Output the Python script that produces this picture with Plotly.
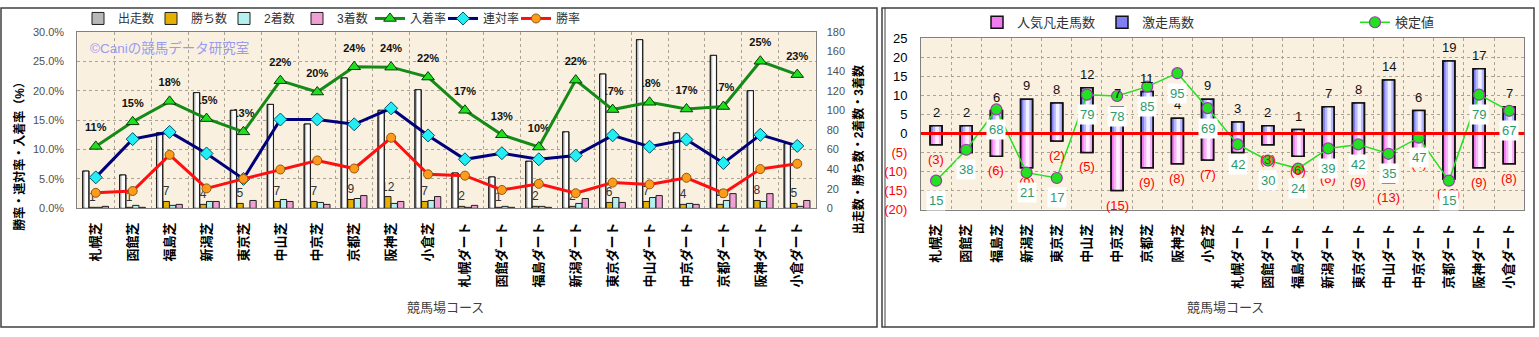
import plotly.graph_objects as go

W, H = 1539, 337

# ---- data -------------------------------------------------------------
courses = ["札幌芝", "函館芝", "福島芝", "新潟芝", "東京芝", "中山芝", "中京芝", "京都芝", "阪神芝", "小倉芝",
           "札幌ダート", "函館ダート", "福島ダート", "新潟ダート", "東京ダート", "中山ダート", "中京ダート",
           "京都ダート", "阪神ダート", "小倉ダート"]

runs = [38, 34, 77, 118, 100, 106, 86, 133, 100, 121, 36, 32, 48, 78, 137, 172, 77, 156, 120, 66]
wins = [1, 1, 7, 4, 5, 7, 7, 9, 12, 7, 2, 1, 2, 2, 6, 7, 4, 4, 8, 5]
seconds = [1, 3, 3, 7, 0, 9, 6, 10, 5, 8, 1, 2, 2, 5, 11, 11, 5, 8, 7, 2]
thirds = [2, 1, 4, 7, 8, 7, 4, 13, 7, 12, 3, 1, 1, 10, 6, 13, 4, 15, 15, 8]

surge = [2, 2, 6, 9, 8, 12, 7, 11, 4, 9, 3, 2, 1, 7, 8, 14, 6, 19, 17, 7]      # 激走馬数
flop = [3, 5, 6, 9, 2, 5, 15, 9, 8, 7, 5, 3, 6, 8, 9, 13, 4, 12, 9, 8]         # 人気凡走馬数
score = [15, 38, 68, 21, 17, 79, 78, 85, 95, 69, 42, 30, 24, 39, 42, 35, 47, 15, 79, 67]  # 検定値

left_ticks = [-20, -15, -10, -5, 0, 5, 10, 15, 20, 25]

# rates derived from the counts
win_rate = [w / r for w, r in zip(wins, runs)]
quinella_rate = [(w + s) / r for w, s, r in zip(wins, seconds, runs)]
place_rate = [(w + s + t) / r for w, s, t, r in zip(wins, seconds, thirds, runs)]
place_text = [f"{int(p * 100 + 0.5)}%" for p in place_rate]


def px(x):
    return x / W


def py(y):
    return 1 - y / H


JP = "Liberation Sans, Noto Sans CJK JP"
GRID = "#ABA393"

fig = go.Figure()

# ---- left panel: counts (right axis) ---------------------------------
bw = 0.17
fig.add_bar(x=courses, y=wins, name="勝ち数", xaxis="x", yaxis="y2", width=bw, offset=-0.175,
            marker=dict(color="#E6B000", line=dict(color="#202020", width=1)),
            text=[str(v) for v in wins], textposition="outside", constraintext="none",
            cliponaxis=False, textfont=dict(size=12, color="#333333"), legendrank=2, hoverinfo="skip")
fig.add_bar(x=courses, y=seconds, name="2着数", xaxis="x", yaxis="y2", width=bw, offset=0.0,
            marker=dict(color="#B4F0F0", line=dict(color="#202020", width=1)), legendrank=3, hoverinfo="skip")
fig.add_bar(x=courses, y=thirds, name="3着数", xaxis="x", yaxis="y2", width=bw, offset=0.175,
            marker=dict(color="#F0A0D4", line=dict(color="#202020", width=1)), legendrank=4, hoverinfo="skip")
fig.add_bar(x=courses, y=runs, name="出走数", xaxis="x", yaxis="y2", width=bw, offset=-0.355,
            marker=dict(color="#B8B8B8", line=dict(color="#202020", width=1)), legendrank=1, hoverinfo="skip")
fig.add_bar(x=courses, y=runs, xaxis="x", yaxis="y2", width=bw * 0.55, offset=-0.355 + bw * 0.32,
            marker=dict(color="#FFFFFF", line=dict(width=0)), showlegend=False, hoverinfo="skip")
fig.add_bar(x=courses, y=runs, xaxis="x", yaxis="y2", width=bw, offset=-0.355,
            marker=dict(color="rgba(0,0,0,0)", line=dict(color="#202020", width=1)),
            showlegend=False, hoverinfo="skip")

# percentage labels for 入着率 (sit beneath the bars)
fig.add_scatter(x=courses, y=place_rate, xaxis="x", yaxis="y", mode="markers+text", text=place_text,
                textposition="top center", marker=dict(size=18, color="rgba(0,0,0,0)"),
                textfont=dict(size=11, color="#111111", weight="bold"), showlegend=False, hoverinfo="skip")

# rate lines (left axis)
fig.add_scatter(x=courses, y=place_rate, name="入着率", xaxis="x", yaxis="y3", mode="lines+markers",
                line=dict(color="#168A16", width=3),
                marker=dict(symbol="triangle-up", size=11, color="#1EE01E", line=dict(color="#0A3A0A", width=1)),
                legendrank=5, hoverinfo="skip")
fig.add_scatter(x=courses, y=quinella_rate, name="連対率", xaxis="x", yaxis="y3", mode="lines+markers",
                line=dict(color="#00007A", width=3),
                marker=dict(symbol="diamond", size=10, color="#22EEF4", line=dict(color="#00506A", width=1)),
                legendrank=6, hoverinfo="skip")
fig.add_scatter(x=courses, y=win_rate, name="勝率", xaxis="x", yaxis="y3", mode="lines+markers",
                line=dict(color="#FF1010", width=3),
                marker=dict(symbol="circle", size=9, color="#FF9A1A", line=dict(color="#8A5A10", width=1)),
                legendrank=7, hoverinfo="skip")

# ---- right panel ------------------------------------------------------
neg_flop = [-v for v in flop]
fig.add_bar(x=courses, y=neg_flop, name="人気凡走馬数", xaxis="x2", yaxis="y4", width=0.4, offset=-0.2,
            marker=dict(color="#F07CF0", line=dict(color="#111111", width=1.5)),
            legend="legend2", legendrank=1, hoverinfo="skip")
fig.add_bar(x=courses, y=neg_flop, xaxis="x2", yaxis="y4", width=0.27, offset=-0.11,
            marker=dict(color="#F8B4F8", line=dict(width=0)), showlegend=False, hoverinfo="skip")
fig.add_bar(x=courses, y=neg_flop, xaxis="x2", yaxis="y4", width=0.12, offset=-0.03,
            marker=dict(color="#FFF0FF", line=dict(width=0)), showlegend=False, hoverinfo="skip")
fig.add_bar(x=courses, y=neg_flop, xaxis="x2", yaxis="y4", width=0.4, offset=-0.2,
            marker=dict(color="rgba(0,0,0,0)", line=dict(color="#111111", width=1.5)),
            showlegend=False, hoverinfo="skip")

fig.add_bar(x=courses, y=surge, name="激走馬数", xaxis="x2", yaxis="y4", width=0.4, offset=-0.2,
            marker=dict(color="#8080F4", line=dict(color="#111111", width=1.5)),
            legend="legend2", legendrank=2, hoverinfo="skip")
fig.add_bar(x=courses, y=surge, xaxis="x2", yaxis="y4", width=0.27, offset=-0.11,
            marker=dict(color="#B8B8FF", line=dict(width=0)), showlegend=False, hoverinfo="skip")
fig.add_bar(x=courses, y=surge, xaxis="x2", yaxis="y4", width=0.12, offset=-0.03,
            marker=dict(color="#F0F0FF", line=dict(width=0)), showlegend=False, hoverinfo="skip")
fig.add_bar(x=courses, y=surge, xaxis="x2", yaxis="y4", width=0.4, offset=-0.2,
            marker=dict(color="rgba(0,0,0,0)", line=dict(color="#111111", width=1.5)),
            showlegend=False, hoverinfo="skip")

fig.add_scatter(x=courses, y=score, name="検定値", xaxis="x2", yaxis="y5", mode="lines+markers",
                line=dict(color="#22E022", width=1.5),
                marker=dict(size=11, color="#22E022", line=dict(color="#9A3AAA", width=1.2)),
                legend="legend3", hoverinfo="skip")

# ---- annotations ------------------------------------------------------
ann = [
    dict(text="©Caniの競馬データ研究室", xref="paper", yref="paper", x=px(88), y=py(43),
         xanchor="left", yanchor="middle", showarrow=False, font=dict(size=13.5, color="#9A9AF2")),
    dict(text="勝率・連対率・入着率（%）", xref="paper", yref="paper", x=px(19.5), y=py(153),
         xanchor="center", yanchor="middle", textangle=-90, showarrow=False,
         font=dict(size=12, color="#000000", weight="bold")),
    dict(text="出走数・勝ち数・2着数・3着数", xref="paper", yref="paper", x=px(858), y=py(150),
         xanchor="center", yanchor="middle", textangle=-90, showarrow=False,
         font=dict(size=12, color="#000000", weight="bold")),
    dict(text="競馬場コース", xref="paper", yref="paper", x=px(445), y=py(315),
         xanchor="center", yanchor="middle", showarrow=False, font=dict(size=13, color="#404040")),
    dict(text="競馬場コース", xref="paper", yref="paper", x=px(1225), y=py(315),
         xanchor="center", yanchor="middle", showarrow=False, font=dict(size=13, color="#404040")),
]
for c, v in zip(courses, surge):
    ann.append(dict(text=str(v), x=c, y=v, xref="x2", yref="y4", yanchor="bottom", yshift=4,
                    showarrow=False, font=dict(size=13, color="#111111")))
for c, v in zip(courses, flop):
    ann.append(dict(text=f"({v})", x=c, y=-v, xref="x2", yref="y4", yanchor="top", yshift=-5,
                    showarrow=False, font=dict(size=13, color="#FF0000")))
for c, v in zip(courses, score):
    ann.append(dict(text=str(v), x=c, y=v, xref="x2", yref="y5", yanchor="middle", yshift=-20,
                    showarrow=False, bgcolor="#FFFFFF", borderpad=2,
                    font=dict(size=13, color="#2E9A6A")))

shapes = [
    dict(type="rect", xref="paper", yref="paper", x0=px(1), x1=px(877), y0=py(335), y1=py(1),
         line=dict(color="#404040", width=1.5)),
    dict(type="rect", xref="paper", yref="paper", x0=px(882), x1=px(1534), y0=py(335), y1=py(1),
         line=dict(color="#404040", width=1.5)),
    dict(type="line", xref="paper", yref="paper", x0=px(885), x1=px(885), y0=py(335), y1=py(1),
         line=dict(color="#404040", width=1)),
    dict(type="line", xref="x2 domain", yref="y4", x0=0, x1=1, y0=0, y1=0, layer="above",
         line=dict(color="#FF0000", width=3)),
]

axis_common = dict(showline=True, linecolor="#808080", mirror=True, ticks="", zeroline=False)

fig.update_layout(
    width=W, height=H, margin=dict(l=0, r=0, t=0, b=0),
    paper_bgcolor="white", plot_bgcolor="#F9F0DF",
    barmode="overlay", font=dict(family=JP, size=12, color="#333333"),
    xaxis=dict(domain=[px(77.3), px(815.7)], anchor="y", type="category", range=[-0.5, 19.5],
               tickson="boundaries", showgrid=True, gridcolor=GRID, griddash="dot", gridwidth=1,
               tickangle=-90, ticklabelstandoff=8,
               tickfont=dict(size=13, color="#000000", weight="bold"), **axis_common),
    yaxis=dict(domain=[py(210.7), py(26)], anchor="x", range=[0, 0.30], dtick=0.05, tickformat=".1%",
               showgrid=True, gridcolor=GRID, griddash="dot", ticklabelstandoff=10,
               tickfont=dict(size=11, color="#505050"), **axis_common),
    yaxis2=dict(overlaying="y", anchor="x", side="right", range=[0, 180], dtick=20, showgrid=False,
                zeroline=False, showline=False, ticks="", ticklabelstandoff=10,
                tickfont=dict(size=11, color="#505050")),
    yaxis3=dict(overlaying="y", anchor="x", range=[0, 0.30], visible=False),
    xaxis2=dict(domain=[px(921), px(1524.3)], anchor="y4", type="category", range=[-0.5, 19.5],
                tickson="boundaries", showgrid=True, gridcolor=GRID, griddash="dot", gridwidth=1,
                tickangle=-90, ticklabelstandoff=8,
                tickfont=dict(size=13, color="#000000", weight="bold"), **axis_common),
    yaxis4=dict(domain=[py(212), py(32.7)], anchor="x2", range=[-20, 25], tickvals=left_ticks,
                ticktext=[f'<span style="color:#FF0000">({-t})</span>' if t < 0 else str(t) for t in left_ticks],
                showgrid=True, gridcolor=GRID, griddash="dot", ticklabelstandoff=10,
                tickfont=dict(size=13, color="#000000"), **axis_common),
    yaxis5=dict(overlaying="y4", anchor="x2", range=[-6.5, 121], visible=False),
    legend=dict(orientation="h", x=px(78), y=py(12), xanchor="left", yanchor="middle",
                entrywidth=28, entrywidthmode="pixels", traceorder="normal",
                font=dict(size=12, color="#333333"), bgcolor="rgba(0,0,0,0)"),
    legend2=dict(orientation="h", x=px(977), y=py(16), xanchor="left", yanchor="middle",
                 entrywidth=80, entrywidthmode="pixels", traceorder="normal",
                 font=dict(size=13, color="#333333"), bgcolor="rgba(0,0,0,0)"),
    legend3=dict(orientation="h", x=px(1355), y=py(16), xanchor="left", yanchor="middle",
                 font=dict(size=13, color="#333333"), bgcolor="rgba(0,0,0,0)"),
    annotations=ann, shapes=shapes,
)

fig.write_html("out.html")
